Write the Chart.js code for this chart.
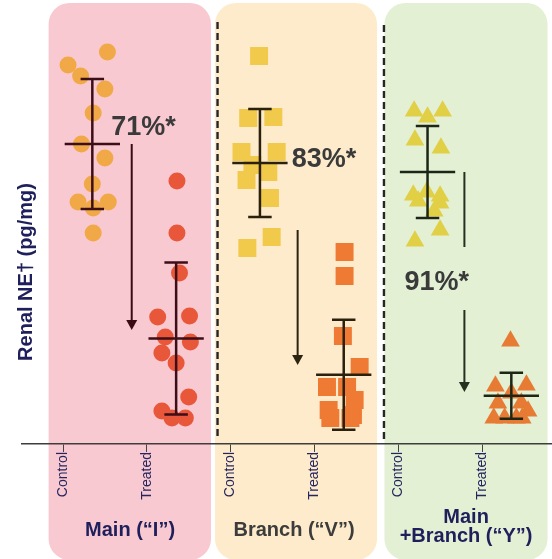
<!DOCTYPE html>
<html>
<head>
<meta charset="utf-8">
<script src="https://cdn.jsdelivr.net/npm/chart.js@4/dist/chart.umd.min.js"></script>
<style>
  html, body { margin: 0; padding: 0; background: #ffffff; }
  canvas { display: block; }
</style>
</head>
<body>
<canvas id="chart" width="552" height="559"></canvas>
<script>
// ---- data -------------------------------------------------------------
const groupNames = ['Main (\u201CI\u201D)', 'Branch (\u201CV\u201D)', ['Main', '+Branch (\u201CY\u201D)']];
const tickLabels = ['Control', 'Treated', 'Control', 'Treated', 'Control', 'Treated'];

// renal NE per animal (pg/mg)
const mainControl   = [366, 353, 342, 329, 305, 274, 260, 234, 216, 216, 210, 185];
const mainTreated   = [237, 185, 145, 101, 102, 81, 76, 65, 55, 21, 7, 0, 0];
const branchControl = [362, 300, 301, 266, 266, 238, 246, 220, 181, 170, 253];
const branchTreated = [166, 142, 82, 51, 31, 31, 18, 8, 3, 0, 0];
const yControl      = [307, 301, 307, 278, 270, 223, 226, 222, 217, 215, 207, 188, 177];
const yTreated      = [77, 32, 25, 33, 15, 15, 0, 0, 0, 7, 0];

// horizontal scatter of the animals inside each column
const mainControlJitter   = [0.18, -0.29, -0.14, 0.15, 0.01, -0.13, 0.15, 0.00, -0.17, 0.19, 0.01, 0.01];
const mainTreatedJitter   = [0.01, 0.01, 0.04, -0.22, 0.16, -0.13, 0.17, -0.17, 0.00, 0.15, -0.17, -0.05, 0.11];
const branchControlJitter = [-0.01, -0.14, 0.16, -0.22, 0.20, -0.16, 0.10, 0.12, 0.14, -0.15, -0.09];
const branchTreatedJitter = [0.01, 0.01, -0.01, 0.19, -0.20, 0.04, 0.13, -0.18, 0.11, -0.16, 0.08];
const yControlJitter      = [-0.16, 0.00, 0.18, -0.15, 0.16, -0.17, -0.01, 0.15, -0.11, 0.15, 0.08, 0.15, -0.15];
const yTreatedJitter      = [-0.01, -0.19, 0.00, 0.18, -0.16, 0.12, -0.21, -0.08, 0.06, 0.20, 0.13];

// group summaries: mean ± SD; treated mean follows from the stated reduction
const controlMeans = [274, 255, 246];
const controlSD    = [65, 54, 46];
const reductionPct = [71, 83, 91];
const treatedSD    = [76, 55, 23];
const treatedMeans = controlMeans.map((m, i) => m * (1 - reductionPct[i] / 100));

// ---- styling ----------------------------------------------------------
const FONT = '"Liberation Sans", Arial, Helvetica, sans-serif';
const NAVY = '#1f1f5c';
const COL_OFFSET = 0.35;           // points sit slightly right of their tick
const X_MIN = -0.4893, X_MAX = 5.8353;

const panelSpecs = [
  { from: -0.172, to: 1.766, fill: '#f9c9d1' },
  { from: 1.814,  to: 3.747, fill: '#fdebcb' },
  { from: 3.836,  to: 5.782, fill: '#e3f0d4' }
];
const dividers = [ { x: 1.844, top: 396 }, { x: 3.830, top: 393 } ];

const barColors  = ['#3b0e18', '#2b200c', '#1d2616'];
const arrowSpecs = [
  { x: 0.82, from: 274, to: 88,  color: '#3a0b12', head: true },
  { x: 2.80, from: 188, to: 53,  color: '#2c2410', head: true },
  { x: 4.79, from: 246, to: 171, color: '#253020', head: false },
  { x: 4.79, from: 108, to: 26,  color: '#253020', head: true }
];
const pctSpots   = [ { x: 0.575, y: 283 }, { x: 2.730, y: 251 }, { x: 4.075, y: 128 } ];
const groupSpots = [ 0.80, 2.757, 4.81 ];

function series(values, jitter, col, color, style, radius) {
  return {
    data: values.map((v, i) => ({ x: col + COL_OFFSET + jitter[i], y: v })),
    backgroundColor: color,
    borderWidth: 0,
    pointStyle: style,
    pointRadius: radius,
    pointHoverRadius: radius,
    clip: false
  };
}

function roundRect(ctx, x0, y0, x1, y1, r) {
  ctx.beginPath();
  ctx.moveTo(x0 + r, y0);
  ctx.lineTo(x1 - r, y0);
  ctx.arcTo(x1, y0, x1, y0 + r, r);
  ctx.lineTo(x1, y1 - r);
  ctx.arcTo(x1, y1, x1 - r, y1, r);
  ctx.lineTo(x0 + r, y1);
  ctx.arcTo(x0, y1, x0, y1 - r, r);
  ctx.lineTo(x0, y0 + r);
  ctx.arcTo(x0, y0, x0 + r, y0, r);
  ctx.closePath();
}

const decor = {
  id: 'decor',
  beforeDraw(chart) {
    const { ctx, scales: { x, y } } = chart;
    ctx.save();
    panelSpecs.forEach(p => {
      roundRect(ctx, x.getPixelForValue(p.from), y.getPixelForValue(415),
                x.getPixelForValue(p.to), chart.height + 1, 21);
      ctx.fillStyle = p.fill;
      ctx.fill();
    });
    ctx.strokeStyle = '#262626';
    ctx.lineWidth = 2.4;
    ctx.setLineDash([7, 4]);
    dividers.forEach(d => {
      const px = x.getPixelForValue(d.x);
      ctx.beginPath();
      ctx.moveTo(px, y.getPixelForValue(d.top));
      ctx.lineTo(px, y.getPixelForValue(-22));
      ctx.stroke();
    });
    ctx.restore();
  },
  afterDatasetsDraw(chart) {
    const { ctx, scales: { x, y } } = chart;
    ctx.save();
    // mean ± SD bars
    const half = x.getPixelForValue(0.33) - x.getPixelForValue(0);
    const cap = x.getPixelForValue(0.14) - x.getPixelForValue(0);
    for (let g = 0; g < 3; g++) {
      [[controlMeans[g], controlSD[g]], [treatedMeans[g], treatedSD[g]]].forEach(([m, sd], k) => {
        const cx = x.getPixelForValue(g * 2 + k + COL_OFFSET);
        const yHi = y.getPixelForValue(m + sd), yLo = y.getPixelForValue(m - sd), yM = y.getPixelForValue(m);
        ctx.strokeStyle = barColors[g];
        ctx.lineWidth = 2.5;
        ctx.setLineDash([]);
        ctx.beginPath();
        ctx.moveTo(cx, yHi); ctx.lineTo(cx, yLo);
        ctx.moveTo(cx - cap, yHi); ctx.lineTo(cx + cap, yHi);
        ctx.moveTo(cx - cap, yLo); ctx.lineTo(cx + cap, yLo);
        ctx.moveTo(cx - half, yM); ctx.lineTo(cx + half, yM);
        ctx.stroke();
      });
    }
    // reduction arrows
    arrowSpecs.forEach(a => {
      const px = x.getPixelForValue(a.x);
      const y0 = y.getPixelForValue(a.from), y1 = y.getPixelForValue(a.to);
      ctx.strokeStyle = a.color;
      ctx.fillStyle = a.color;
      ctx.lineWidth = 2;
      ctx.beginPath();
      ctx.moveTo(px, y0);
      ctx.lineTo(px, a.head ? y1 - 8 : y1);
      ctx.stroke();
      if (a.head) {
        ctx.beginPath();
        ctx.moveTo(px - 5.5, y1 - 10);
        ctx.lineTo(px + 5.5, y1 - 10);
        ctx.lineTo(px, y1);
        ctx.closePath();
        ctx.fill();
      }
    });
    // reduction labels
    ctx.font = 'bold 27px ' + FONT;
    ctx.fillStyle = '#3a3a3a';
    ctx.textAlign = 'left';
    ctx.textBaseline = 'alphabetic';
    pctSpots.forEach((s, i) => {
      ctx.fillText(reductionPct[i] + '%*', x.getPixelForValue(s.x), y.getPixelForValue(s.y));
    });
    ctx.restore();
  },
  afterDraw(chart) {
    const { ctx, chartArea, scales: { x } } = chart;
    ctx.save();
    // group names under the axis
    ctx.font = 'bold 20px ' + FONT;
    ctx.textAlign = 'center';
    ctx.textBaseline = 'alphabetic';
    const base = x.top;
    groupNames.forEach((name, i) => {
      const px = x.getPixelForValue(groupSpots[i]);
      ctx.fillStyle = i === 1 ? '#3c3c3c' : NAVY;
      if (Array.isArray(name)) {
        ctx.fillText(name[0], px, base + 79);
        ctx.fillText(name[1], px, base + 98);
      } else {
        ctx.fillText(name, px, base + 92);
      }
    });
    // y-axis title
    ctx.translate(chartArea.left + 4, 272);
    ctx.rotate(-Math.PI / 2);
    ctx.textBaseline = 'middle';
    ctx.fillStyle = NAVY;
    ctx.font = 'bold 20px ' + FONT;
    ctx.fillText('Renal NE\u2020 (pg/mg)', 0, 0);
    ctx.restore();
  }
};

new Chart(document.getElementById('chart'), {
  type: 'scatter',
  data: {
    datasets: [
      series(mainControl,   mainControlJitter,   0, '#f0a946', 'circle',   8.5),
      series(mainTreated,   mainTreatedJitter,   1, '#e9573a', 'circle',   8.5),
      series(branchControl, branchControlJitter, 2, '#f1c94b', 'rect',     12.7),
      series(branchTreated, branchTreatedJitter, 3, '#ef7a33', 'rect',     12.7),
      series(yControl,      yControlJitter,      4, '#e1cf45', 'triangle', 10.8),
      series(yTreated,      yTreatedJitter,      5, '#e77b34', 'triangle', 10.8)
    ]
  },
  options: {
    responsive: false,
    animation: false,
    devicePixelRatio: 1,
    layout: { autoPadding: false, padding: { left: 22, top: 0, right: 0, bottom: 0 } },
    plugins: { legend: { display: false }, tooltip: { enabled: false } },
    scales: {
      x: {
        type: 'linear',
        min: X_MIN,
        max: X_MAX,
        afterBuildTicks: s => { s.ticks = tickLabels.map((_, i) => ({ value: i })); },
        afterFit: s => { s.height = 115; },
        ticks: {
          autoSkip: false,
          minRotation: 90,
          maxRotation: 90,
          padding: 0,
          color: '#25255f',
          font: { family: FONT, size: 14 },
          callback: (v, i) => tickLabels[i]
        },
        grid: { display: true, drawOnChartArea: false, drawTicks: true, tickLength: 8, color: '#444444', lineWidth: 1 },
        border: { display: true, color: '#3d3d3d', width: 1.5 }
      },
      y: { display: false, min: -26, max: 418 }
    }
  },
  plugins: [decor]
});
</script>
</body>
</html>
